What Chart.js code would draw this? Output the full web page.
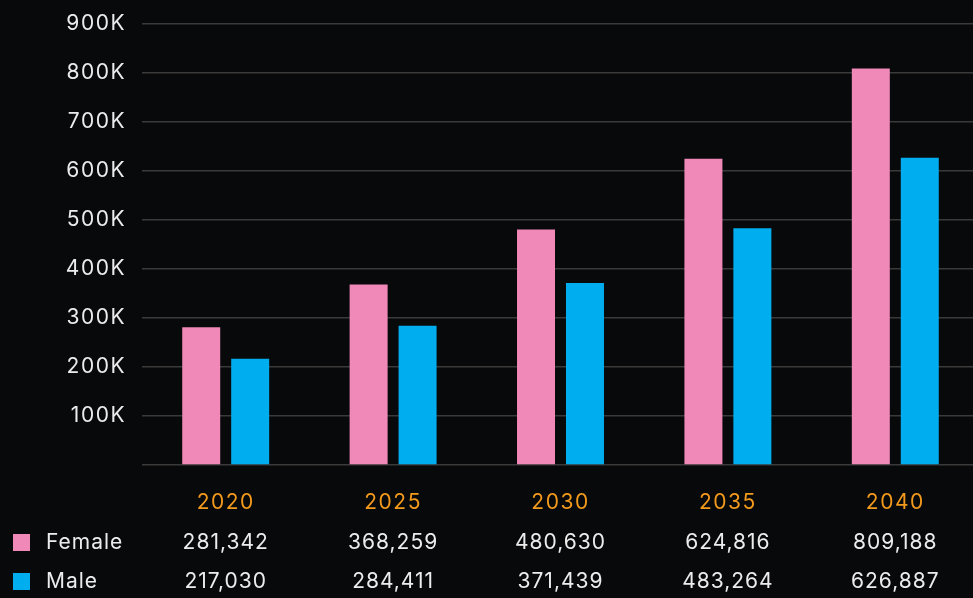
<!DOCTYPE html>
<html>
<head>
<meta charset="utf-8">
<script src="https://cdn.jsdelivr.net/npm/chart.js@4.4.1/dist/chart.umd.min.js"></script>
<style>
    html, body { margin: 0; padding: 0; background: #08090b; overflow: hidden; }
    canvas { display: block; }
</style>
</head>
<body>
<!-- slightly wider than the window: the reference crops the plot at its right edge -->
<canvas id="chart" width="979" height="598"></canvas>
<script>
// data
const years = ['2020', '2025', '2030', '2035', '2040'];
const female = [281342, 368259, 480630, 624816, 809188];
const male = [217030, 284411, 371439, 483264, 626887];

const FONT = 'Inter, "Open Sans", sans-serif';

// wider tracking, closer to the reference typeface
const spacingPlugin = {
    id: 'spacing',
    beforeDraw(chart) {
        chart.ctx.letterSpacing = '1.5px';
    }
};

// draws the legend + value table under the x axis, aligned to the x scale
const tablePlugin = {
    id: 'valueTable',
    afterDraw(chart) {
        const ctx = chart.ctx;
        const xScale = chart.scales.x;
        const base = chart.chartArea.bottom;
        ctx.save();
        ctx.font = '21px ' + FONT;
        ctx.letterSpacing = '1px';
        ctx.textBaseline = 'middle';
        chart.data.datasets.forEach((ds, i) => {
            const y = base + 78 + i * 39;
            ctx.fillStyle = ds.backgroundColor;
            ctx.fillRect(13, y - 9, 17, 17);
            ctx.fillStyle = '#ececec';
            ctx.textAlign = 'left';
            ctx.fillText(ds.label, 46, y);
            ctx.textAlign = 'center';
            ds.data.forEach((v, j) => {
                ctx.fillText(v.toLocaleString('en-US'), xScale.getPixelForValue(j), y);
            });
        });
        ctx.restore();
    }
};

const config = {
    type: 'bar',
    data: {
        labels: years,
        datasets: [
            {
                label: 'Female',
                data: female,
                backgroundColor: '#f088b8'
            },
            {
                label: 'Male',
                data: male,
                backgroundColor: '#00aeef'
            }
        ]
    },
    options: {
        responsive: false,
        animation: false,
        layout: {
            padding: { top: 24, right: 0, bottom: 0, left: 0 }
        },
        datasets: {
            bar: {
                categoryPercentage: 0.585,
                barPercentage: 0.776
            }
        },
        plugins: {
            legend: { display: false },
            tooltip: { enabled: false }
        },
        scales: {
            x: {
                grid: { display: false },
                border: { display: false },
                ticks: {
                    color: '#f39a1d',
                    font: { family: FONT, size: 21 },
                    padding: 17
                },
                afterFit: (scale) => {
                    scale.height = 133;
                    scale.paddingLeft = 0;
                    scale.paddingRight = 0;
                }
            },
            y: {
                min: 0,
                max: 900000,
                grid: {
                    color: '#3a3a3a',
                    lineWidth: 1.5,
                    drawTicks: false
                },
                border: { display: false },
                ticks: {
                    stepSize: 100000,
                    color: '#ececec',
                    font: { family: FONT, size: 21 },
                    padding: 16,
                    callback: (v) => v === 0 ? '' : (v / 1000) + 'K'
                },
                afterFit: (scale) => {
                    scale.width = 142;
                    scale.paddingTop = 0;
                    scale.paddingBottom = 0;
                }
            }
        }
    },
    plugins: [spacingPlugin, tablePlugin]
};

const chart = new Chart(document.getElementById('chart'), config);
</script>
</body>
</html>
